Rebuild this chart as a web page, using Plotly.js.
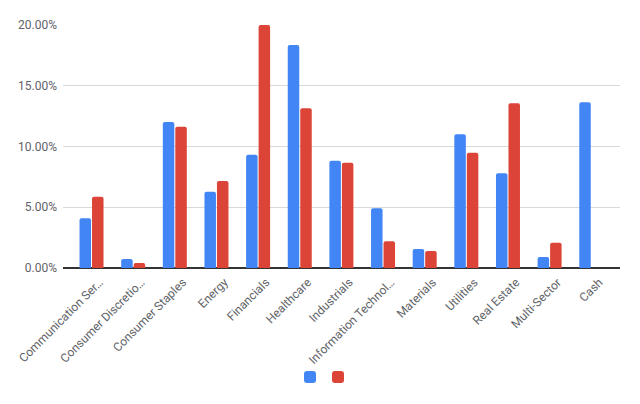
<!DOCTYPE html>
<html><head><meta charset="utf-8">
<script src="https://cdn.plot.ly/plotly-3.0.1.min.js"></script>
<style>html,body{margin:0;padding:0;background:#fff}#chart{width:640px;height:404px}</style>
</head><body><div id="chart"></div>
<script>
var categories = ["Communication Ser…","Consumer Discretio…","Consumer Staples","Energy","Financials","Healthcare","Industrials","Information Technol…","Materials","Utilities","Real Estate","Multi-Sector","Cash"];
var seriesA = [4.09,0.74,12.02,6.28,9.33,18.35,8.83,4.91,1.56,11.0,7.79,0.90,13.64];
var seriesB = [5.87,0.41,11.63,7.16,20.0,13.14,8.67,2.20,1.40,9.49,13.55,2.08,null];
var yTicks = [0,5,10,15,20];
var yTickText = yTicks.map(function(v){return v.toFixed(2)+'%';});

var traces = [
  {type:'bar', x:categories, y:seriesA, name:'', legend:'legend', marker:{color:'#4285F4', cornerradius:2}, hoverinfo:'y'},
  {type:'bar', x:categories, y:seriesB, name:'', legend:'legend2', marker:{color:'#DB4437', cornerradius:2}, hoverinfo:'y'}
];
var legendBase = {orientation:'h', yanchor:'middle', y:-0.449, xanchor:'left', xref:'paper', font:{size:12}, bgcolor:'rgba(0,0,0,0)'};
var layout = {
  width:640, height:404,
  margin:{l:63, r:20, t:25, b:136},
  paper_bgcolor:'#fff', plot_bgcolor:'#fff',
  font:{family:'Roboto, Arial, sans-serif', size:12, color:'#5f6368'},
  barmode:'group', bargap:0.4, bargroupgap:0.08,
  xaxis:{type:'category', range:[-0.685,12.69], tickangle:-45, showgrid:false, zeroline:false, showline:false, ticks:'', ticklabelshift:8, ticklabelstandoff:4, tickfont:{size:12, color:'#5f6368'}, automargin:false},
  yaxis:{range:[0,20], tickvals:yTicks, ticktext:yTickText, showgrid:true, gridcolor:'#d9d9d9', gridwidth:1, zeroline:true, zerolinecolor:'#333', zerolinewidth:1.5, showline:false, ticks:'', ticklabelstandoff:5, tickfont:{size:12, color:'#5f6368'}, automargin:false},
  showlegend:true,
  legend:Object.assign({}, legendBase, {x:(290-63)/557}),
  legend2:Object.assign({}, legendBase, {x:(318-63)/557})
};
Plotly.newPlot('chart', traces, layout, {displayModeBar:false, staticPlot:true});
</script></body></html>
